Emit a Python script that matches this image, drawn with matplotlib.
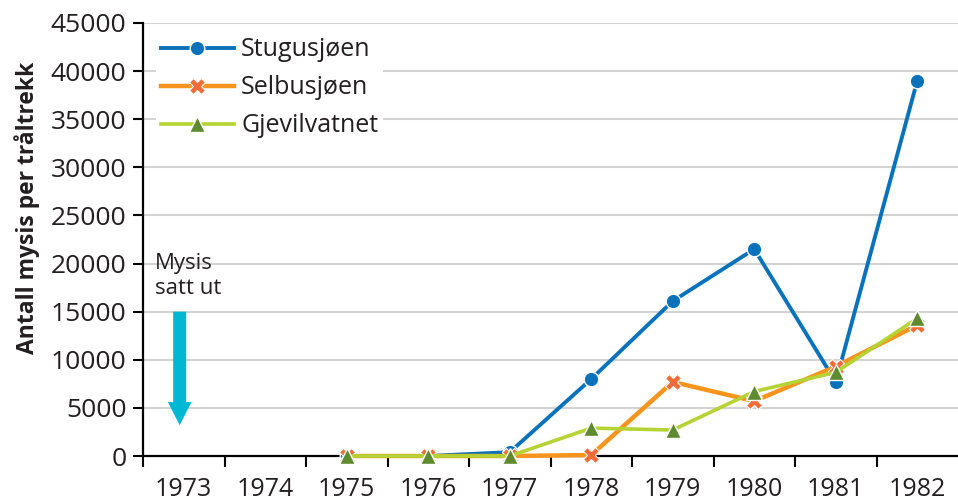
import numpy as np
import matplotlib
matplotlib.use("Agg")
import matplotlib.pyplot as plt
from matplotlib.patches import FancyArrow

plt.rcParams['font.family'] = ['Open Sans', 'DejaVu Sans']

# data
years = ['1973', '1974', '1975', '1976', '1977', '1978', '1979', '1980', '1981', '1982']
stugusjoen = [np.nan, np.nan, 0, 0, 400, 8000, 16100, 21500, 7700, 39000]
selbusjoen = [np.nan, np.nan, 0, 0, 0, 100, 7700, 5700, 9300, 13600]
gjevilvatnet = [np.nan, np.nan, 0, 0, 0, 2900, 2700, 6700, 8700, 14300]
yticks = list(range(0, 45001, 5000))

text_col = '#231f20'
x = np.arange(len(years))

fig = plt.figure(figsize=(9.58, 5.01), dpi=100)
ax = fig.add_axes([143 / 958, 1 - 456 / 501, 1 - 143 / 958, 433 / 501])

ax.plot(x, stugusjoen, color='#0a72ba', lw=2.8, marker='o', ms=10.5,
        mfc='#0a72ba', mec='white', mew=1.0, label='Stugusjøen', clip_on=False, zorder=3)
ax.plot(x, selbusjoen, color='#f7941d', lw=3.2, marker='X', ms=12,
        mfc='#f26b38', mec='white', mew=0.8, label='Selbusjøen', clip_on=False, zorder=4)
ax.plot(x, gjevilvatnet, color='#b5d334', lw=2.6, marker='^', ms=11,
        mfc='#5e8b30', mec='white', mew=1.0, label='Gjevilvatnet', clip_on=False, zorder=5)

ax.set_xlim(-0.5, len(years) - 0.5)
ax.set_ylim(0, 45000)
ax.set_yticks(yticks)
ax.set_yticklabels([str(v) for v in yticks])
ax.yaxis.grid(True, color='#d3d3d3', lw=1.5)
ax.set_axisbelow(True)

# category axis: ticks between the years, labels at centres
ax.set_xticks(np.arange(-0.5, len(years) - 0.5, 1.0))
ax.set_xticklabels([])
ax.set_xticks(x, minor=True)
ax.set_xticklabels(years, minor=True)
ax.tick_params(axis='x', which='major', length=8, width=1.5, direction='out', color='black')
ax.tick_params(axis='x', which='minor', length=0, pad=15, labelsize=18, labelcolor=text_col)
ax.tick_params(axis='y', length=7, width=1.5, direction='out', pad=5, labelsize=19, labelcolor=text_col)

for side in ['top', 'right']:
    ax.spines[side].set_visible(False)
for side in ['left', 'bottom']:
    ax.spines[side].set_linewidth(1.6)

fig.text(27 / 958, 1 - 208 / 501, 'Antall mysis per tråltrekk', rotation=90,
         ha='center', va='center', fontsize=16.5, fontweight='bold', color=text_col)

# stocking arrow
ax.add_patch(FancyArrow(-0.05, 15000, 0, -11800, width=0.16, head_width=0.29,
                        head_length=2400, length_includes_head=True,
                        color='#00b8d4', lw=0, zorder=2))
ax.text(-0.35, 18700, 'Mysis\nsatt ut', ha='left', va='center', fontsize=16,
        color=text_col, linespacing=1.2)

leg = ax.legend(loc='upper left', bbox_to_anchor=(0.01, 0.99), fontsize=18,
                handlelength=2.9, handletextpad=0.3, labelspacing=0.52,
                frameon=True, facecolor='white', edgecolor='none', framealpha=1,
                borderaxespad=0.2, borderpad=0.2)
for t in leg.get_texts():
    t.set_color(text_col)

fig.savefig('out.png', dpi=100)
